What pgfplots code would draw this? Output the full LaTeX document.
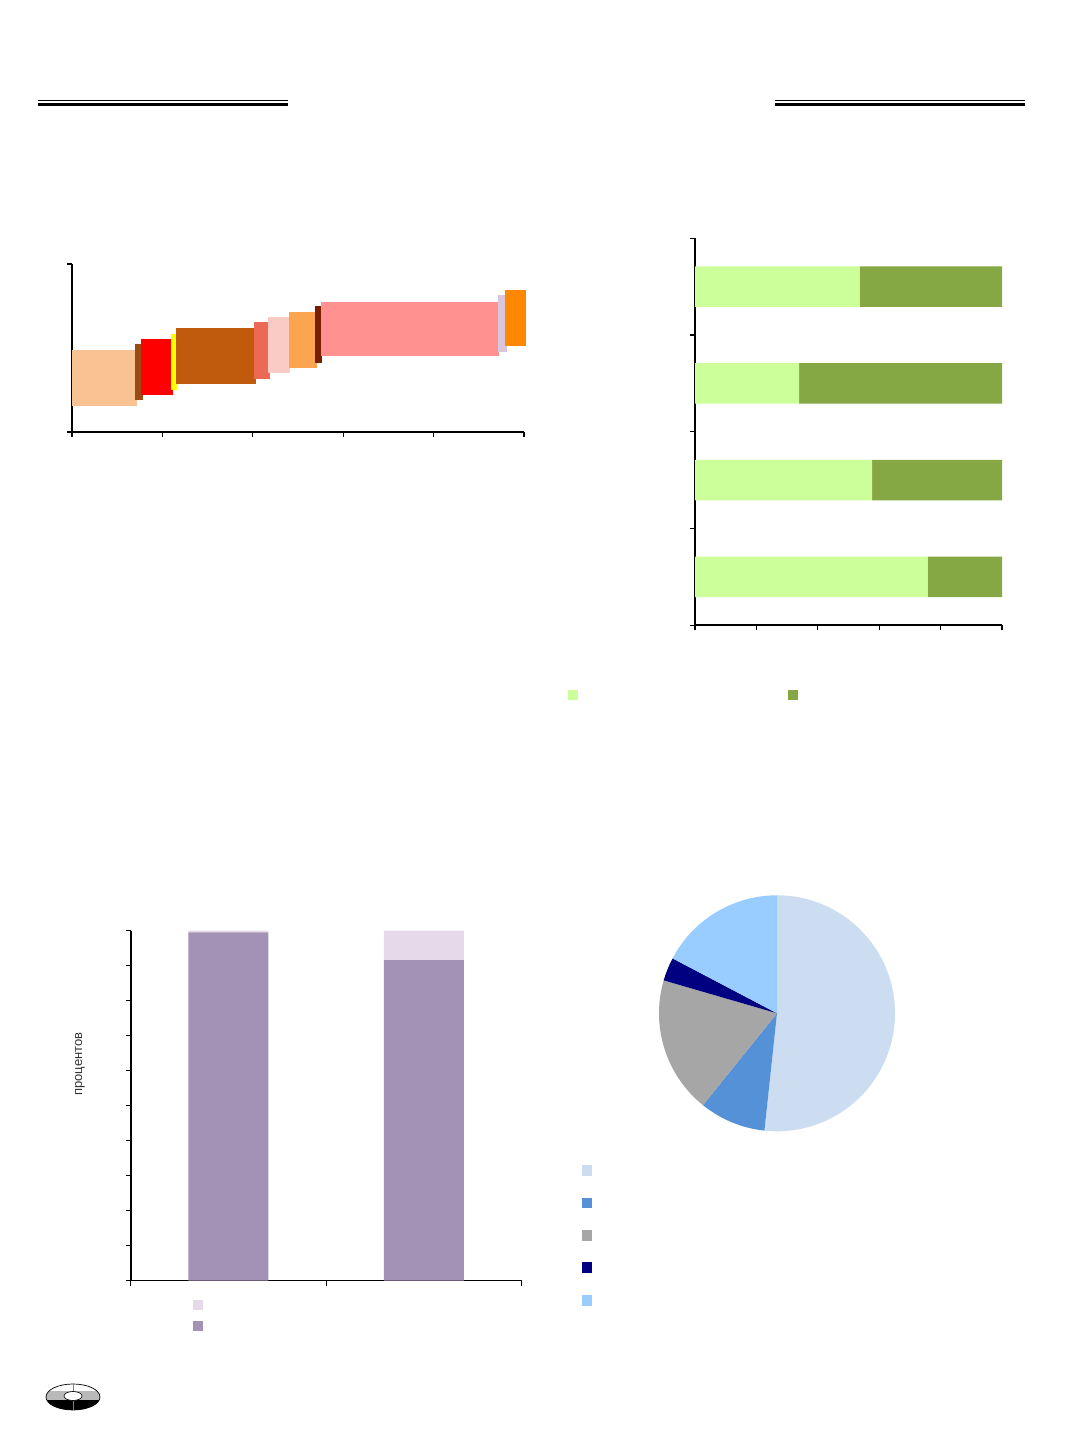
\documentclass[border=0pt]{standalone}
\usepackage{pgfplots}
\pgfplotsset{compat=1.18}
\usepackage{fontspec}
\setmainfont{Liberation Sans}
\definecolor{cA}{HTML}{F9C292}
\definecolor{cB}{HTML}{994C13}
\definecolor{cC}{HTML}{FF0000}
\definecolor{cD}{HTML}{FFFF00}
\definecolor{cE}{HTML}{C05A0C}
\definecolor{cF}{HTML}{EC6A55}
\definecolor{cG}{HTML}{FACAC4}
\definecolor{cH}{HTML}{FCA450}
\definecolor{cI}{HTML}{7A1E00}
\definecolor{cJ}{HTML}{FF9190}
\definecolor{cK}{HTML}{D9C6DB}
\definecolor{cL}{HTML}{FF8800}
\definecolor{lgreen}{HTML}{CCFF99}
\definecolor{dgreen}{HTML}{86A844}
\definecolor{dpurp}{HTML}{A491B6}
\definecolor{lpurp}{HTML}{E6DAEA}
\definecolor{pieA}{HTML}{CCDDF2}
\definecolor{pieB}{HTML}{5591D6}
\definecolor{pieC}{HTML}{A6A6A6}
\definecolor{pieD}{HTML}{000080}
\definecolor{pieE}{HTML}{99CCFF}
\pgfplotsset{myax/.style={scale only axis, axis lines*=left,
  axis line style={line width=1.6pt, black},
  tick style={line width=1.3pt, black}, tick align=outside,
  major tick length=5pt, xticklabels={}, yticklabels={},
  clip=false, anchor=south west}}
\begin{document}
\begin{tikzpicture}[x=1pt,y=1pt]
\path[fill=white] (0,0) rectangle (1072,1433);
% header rules
\draw[line width=1.3pt] (38,1332.3) -- (288,1332.3);
\draw[line width=3pt] (38,1328.5) -- (288,1328.5);
\draw[line width=1.3pt] (775,1332.3) -- (1025,1332.3);
\draw[line width=3pt] (775,1328.5) -- (1025,1328.5);

% Chart 1: floating variable-width bars
\begin{axis}[myax, at={(72pt,1001pt)}, width=452pt, height=168pt,
  xmin=0, xmax=5, ymin=0, ymax=1, xtick={0,...,5}, ytick={0,1}]
\addplot[fill=cA, draw=none, mark=none] coordinates {(0,0.155) (0.72,0.155) (0.72,0.488) (0,0.488)} -- cycle;
\addplot[fill=cB, draw=none, mark=none] coordinates {(0.70,0.189) (0.78,0.189) (0.78,0.522) (0.70,0.522)} -- cycle;
\addplot[fill=cC, draw=none, mark=none] coordinates {(0.763,0.220) (1.114,0.220) (1.114,0.554) (0.763,0.554)} -- cycle;
\addplot[fill=cD, draw=none, mark=none] coordinates {(1.092,0.252) (1.162,0.252) (1.162,0.585) (1.092,0.585)} -- cycle;
\addplot[fill=cE, draw=none, mark=none] coordinates {(1.147,0.284) (2.035,0.284) (2.035,0.619) (1.147,0.619)} -- cycle;
\addplot[fill=cF, draw=none, mark=none] coordinates {(2.013,0.317) (2.190,0.317) (2.190,0.653) (2.013,0.653)} -- cycle;
\addplot[fill=cG, draw=none, mark=none] coordinates {(2.172,0.351) (2.412,0.351) (2.412,0.685) (2.172,0.685)} -- cycle;
\addplot[fill=cH, draw=none, mark=none] coordinates {(2.397,0.383) (2.713,0.383) (2.713,0.716) (2.397,0.716)} -- cycle;
\addplot[fill=cI, draw=none, mark=none] coordinates {(2.691,0.413) (2.769,0.413) (2.769,0.748) (2.691,0.748)} -- cycle;
\addplot[fill=cJ, draw=none, mark=none] coordinates {(2.754,0.451) (4.723,0.451) (4.723,0.774) (2.754,0.774)} -- cycle;
\addplot[fill=cK, draw=none, mark=none] coordinates {(4.709,0.478) (4.809,0.478) (4.809,0.814) (4.709,0.814)} -- cycle;
\addplot[fill=cL, draw=none, mark=none] coordinates {(4.790,0.512) (5.019,0.512) (5.019,0.845) (4.790,0.845)} -- cycle;
\end{axis}

% Chart 2: horizontal stacked 100% bars
\begin{axis}[myax, at={(695pt,807.7pt)}, width=307pt, height=387pt,
  xmin=0, xmax=100, ymin=0, ymax=4, xtick={0,20,...,100}, ytick={0,...,4},
  xbar stacked, bar width=40.4pt]
\addplot[fill=lgreen, draw=none] coordinates {(75.8,0.5) (57.7,1.5) (33.9,2.5) (53.6,3.5)};
\addplot[fill=dgreen, draw=none] coordinates {(24.2,0.5) (42.3,1.5) (66.1,2.5) (46.4,3.5)};
\end{axis}
\fill[lgreen] (568,733) rectangle (578,743);
\fill[dgreen] (788,733) rectangle (798,743);

% Chart 3: vertical stacked percent bars
\begin{axis}[myax, at={(130.7pt,152.3pt)}, width=391pt, height=350pt,
  xmin=0, xmax=2, ymin=0, ymax=100, xtick={0,1,2}, ytick={0,10,...,100},
  ybar stacked, bar width=80pt,
  ylabel={процентов},
  ylabel style={at={(axis description cs:-0.1297,0.619)}, anchor=center,
    font=\fontsize{13}{15}\selectfont, text=black!80}]
\addplot[fill=dpurp, draw=none] coordinates {(0.5,99.5) (1.5,91.6)};
\addplot[fill=lpurp, draw=none] coordinates {(0.5,0.5) (1.5,8.4)};
\end{axis}
\fill[lpurp] (192.7,122.7) rectangle (203.4,133.4);
\fill[dpurp] (192.7,101.7) rectangle (203.4,112.4);

% Chart 4: pie
\def\pieangle{90}
\foreach \v/\col in {51.7/pieA, 9.1/pieB, 18.7/pieC, 3.2/pieD, 17.3/pieE}{
  \pgfmathsetmacro\endang{\pieangle-3.6*\v}
  \fill[\col] (777,419.7) -- ++(\pieangle:118) arc[start angle=\pieangle, end angle=\endang, radius=118] -- cycle;
  \xdef\pieangle{\endang}
}
\fill[pieA] (581.7,257) rectangle (592.4,267.7);
\fill[pieB] (581.7,224.7) rectangle (592.4,235.4);
\fill[pieC] (581.7,192.4) rectangle (592.4,203.1);
\fill[pieD] (581.7,160) rectangle (592.4,170.7);
\fill[pieE] (581.7,127.4) rectangle (592.4,138.1);

% logo
\begin{scope}
\clip (73,36) ellipse [x radius=27, y radius=13];
\fill[white] (46,23) rectangle (100,49);
\fill[gray!55] (46,33) rectangle (100,42);
\fill[black] (46,23) rectangle (100,33);
\end{scope}
\draw[line width=0.7pt] (73,36) ellipse [x radius=27, y radius=13];
\draw[line width=0.6pt, gray] (73,23) -- (73,49);
\filldraw[fill=white, draw=black, line width=0.6pt] (73,37) ellipse [x radius=9, y radius=4.5];
\end{tikzpicture}
\end{document}
